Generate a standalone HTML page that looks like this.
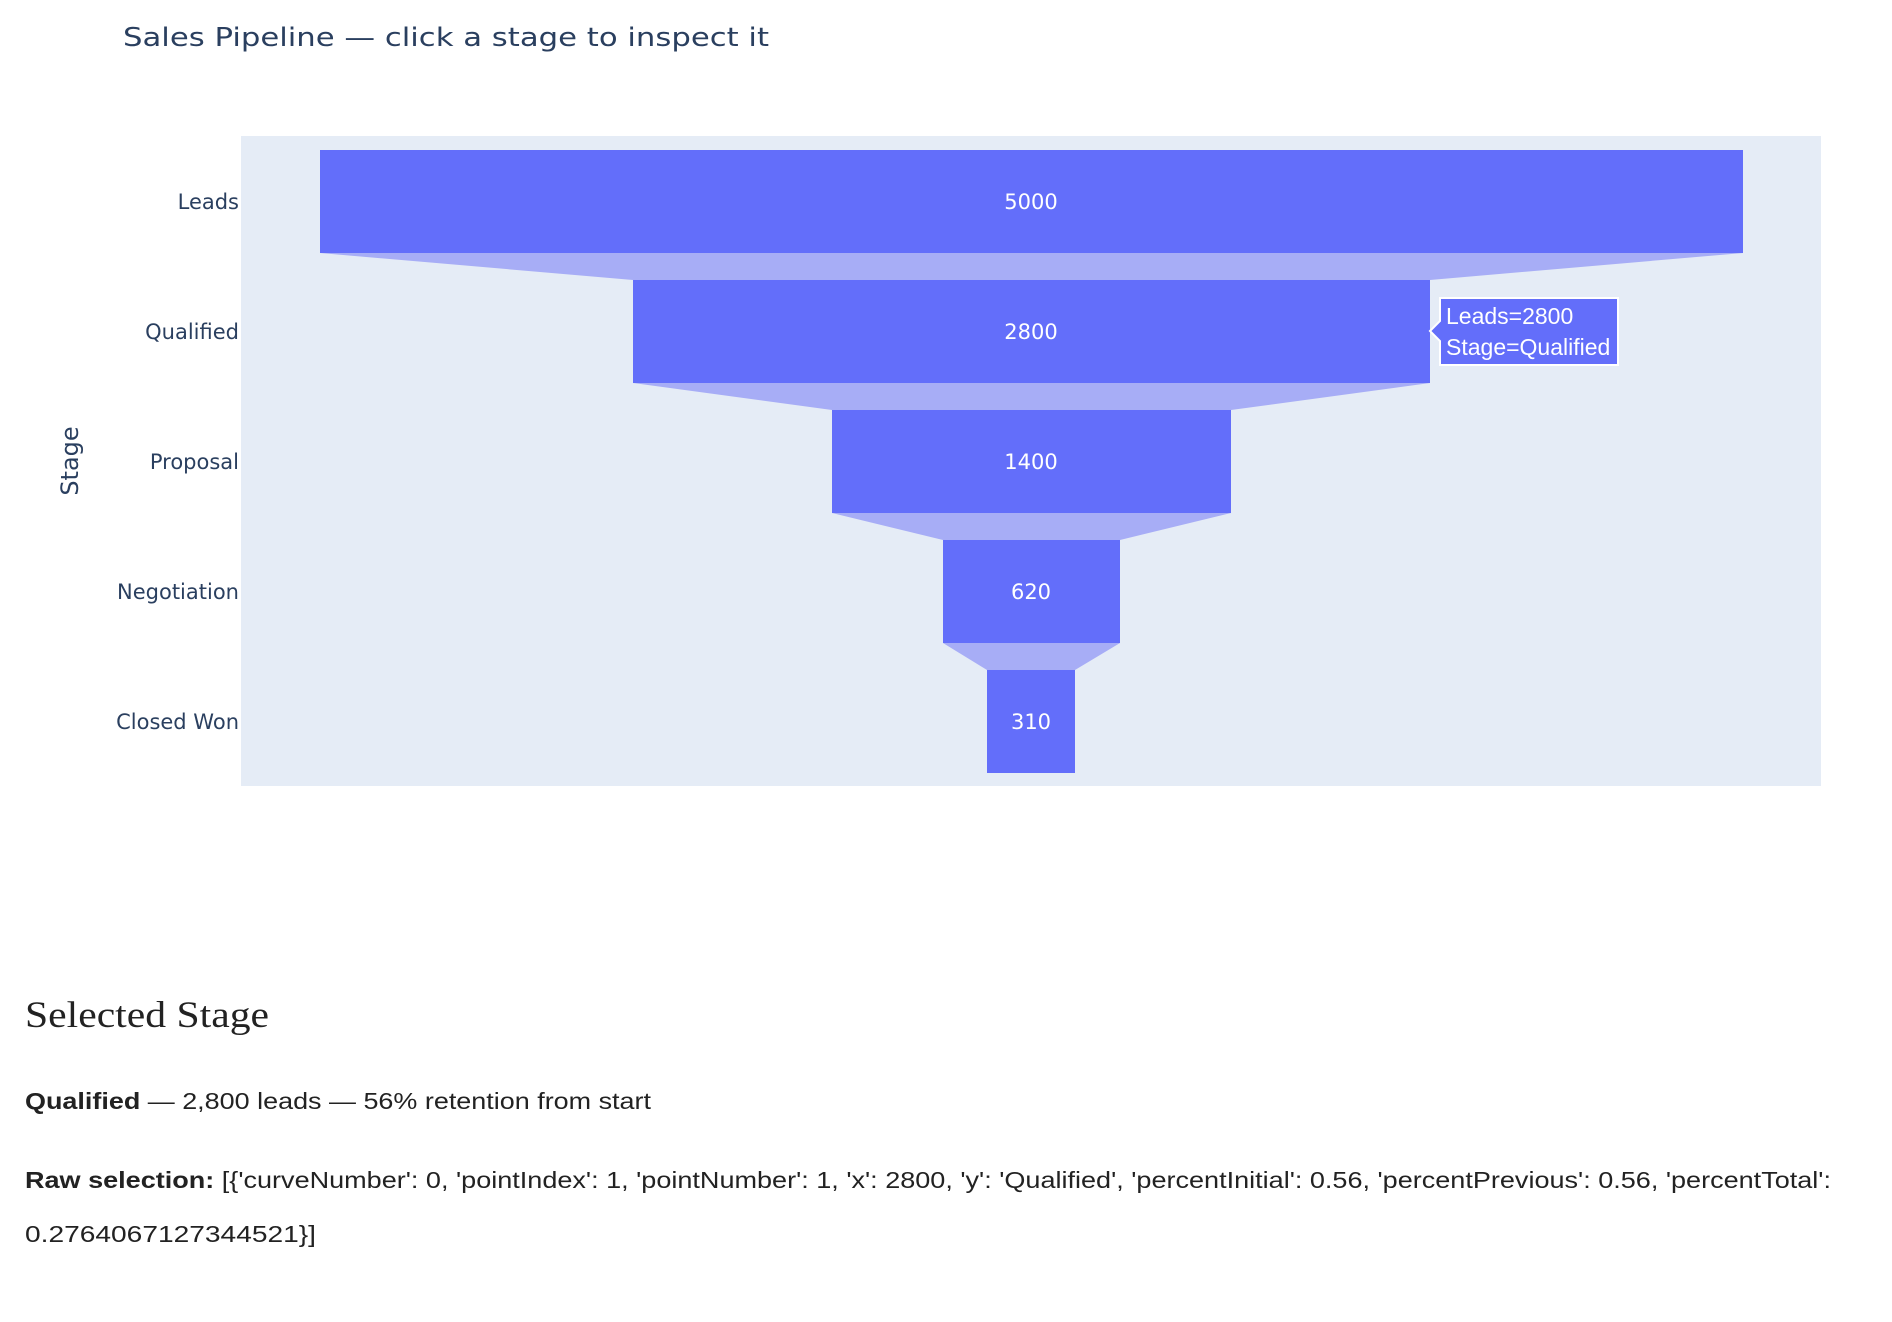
<!DOCTYPE html>
<html><head><meta charset="utf-8"><style>
html,body{margin:0;padding:0;background:#fff;}
svg{display:block;}
</style></head><body>
<svg width="1892" height="1322" viewBox="0 0 1892 1322" xmlns="http://www.w3.org/2000/svg">
<text x="123" y="46" font-family="DejaVu Sans, Liberation Sans, sans-serif" font-size="26" fill="#2a3f5f" textLength="646" lengthAdjust="spacingAndGlyphs">Sales Pipeline — click a stage to inspect it</text>
<rect x="241" y="136" width="1580" height="650" fill="#e5ecf6"/>
<g fill="#a7adf6">
<polygon points="320,253 1743,253 1430,280 633,280"/>
<polygon points="633,383 1430,383 1231,410 832,410"/>
<polygon points="832,513 1231,513 1120,540 943,540"/>
<polygon points="943,643 1120,643 1075,670 987,670"/>
</g>
<g fill="#636efa">
<rect x="320" y="150" width="1423" height="103"/>
<rect x="633" y="280" width="797" height="103"/>
<rect x="832" y="410" width="399" height="103"/>
<rect x="943" y="540" width="177" height="103"/>
<rect x="987" y="670" width="88" height="103"/>
</g>
<g font-family="DejaVu Sans, Liberation Sans, sans-serif" font-size="21" fill="#fff" text-anchor="middle">
<text x="1031" y="209">5000</text>
<text x="1031" y="339">2800</text>
<text x="1031" y="469">1400</text>
<text x="1031" y="599">620</text>
<text x="1031" y="729">310</text>
</g>
<g font-family="DejaVu Sans, Liberation Sans, sans-serif" font-size="21" fill="#2a3f5f" text-anchor="end">
<text x="239" y="209">Leads</text>
<text x="239" y="339">Qualified</text>
<text x="239" y="469">Proposal</text>
<text x="239" y="599">Negotiation</text>
<text x="239" y="729">Closed Won</text>
</g>
<text transform="translate(78,461) rotate(-90)" font-family="DejaVu Sans, Liberation Sans, sans-serif" font-size="24" fill="#2a3f5f" text-anchor="middle">Stage</text>
<path d="M1430,331 L1440,321 L1440,298 L1618,298 L1618,365 L1440,365 L1440,341 Z" fill="#636efa" stroke="#fff" stroke-width="2"/>
<g font-family="Liberation Sans, Arial, sans-serif" font-size="23" fill="#fff">
<text x="1446" y="324">Leads=2800</text>
<text x="1446" y="355">Stage=Qualified</text>
</g>
<text x="25" y="1027" font-family="Liberation Serif, serif" font-size="37" fill="#222" textLength="244" lengthAdjust="spacingAndGlyphs">Selected Stage</text>
<text x="25" y="1109" font-family="Liberation Sans, sans-serif" font-size="23" fill="#222" textLength="626" lengthAdjust="spacingAndGlyphs"><tspan font-weight="bold">Qualified</tspan> — 2,800 leads — 56% retention from start</text>
<text x="25" y="1188" font-family="Liberation Sans, sans-serif" font-size="23" fill="#222" textLength="1806" lengthAdjust="spacingAndGlyphs"><tspan font-weight="bold">Raw selection:</tspan> [{'curveNumber': 0, 'pointIndex': 1, 'pointNumber': 1, 'x': 2800, 'y': 'Qualified', 'percentInitial': 0.56, 'percentPrevious': 0.56, 'percentTotal':</text>
<text x="25" y="1242" font-family="Liberation Sans, sans-serif" font-size="23" fill="#222" textLength="291" lengthAdjust="spacingAndGlyphs">0.2764067127344521}]</text>
</svg>
</body></html>
